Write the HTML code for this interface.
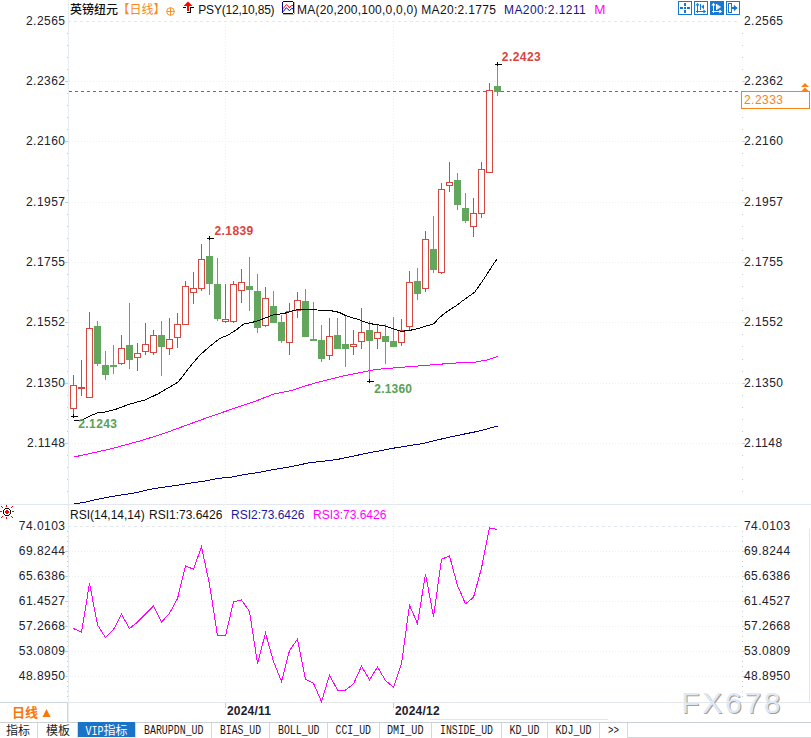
<!DOCTYPE html>
<html><head><meta charset="utf-8">
<style>
html,body{margin:0;padding:0;background:#fff;}
body{width:811px;height:738px;overflow:hidden;position:relative;}
svg{position:absolute;left:0;top:0;}
text{font-family:"Liberation Sans","Noto Sans CJK SC",sans-serif;}
.ax{font-size:12px;fill:#20222e;letter-spacing:0.45px;}
.t{font-size:12px;}
.cj{font-family:"Noto Sans CJK SC","Liberation Sans",sans-serif;}
.tab{font-family:"Liberation Mono","Noto Sans CJK SC",monospace;font-size:12px;fill:#1a1a1a;}
</style></head>
<body>
<svg width="811" height="738" viewBox="0 0 811 738">
<g shape-rendering="crispEdges">
<!-- axis lines -->
<rect x="68" y="0" width="1" height="722" fill="#e6ebf0"/>
<rect x="0" y="504" width="811" height="1" fill="#e3e8ee"/>
<rect x="0" y="702" width="811" height="1" fill="#e4e8ed"/>
<rect x="809" y="529" width="1" height="174" fill="#e3e7eb"/>
<line x1="68" y1="21.5" x2="740" y2="21.5" stroke="#e3e8ee" stroke-dasharray="3 3"/>
<line x1="69" y1="81.5" x2="740" y2="81.5" stroke="#ebeef2" stroke-dasharray="1 2"/>
<line x1="69" y1="141.5" x2="740" y2="141.5" stroke="#ebeef2" stroke-dasharray="1 2"/>
<line x1="69" y1="202.5" x2="740" y2="202.5" stroke="#ebeef2" stroke-dasharray="1 2"/>
<line x1="69" y1="262.5" x2="740" y2="262.5" stroke="#ebeef2" stroke-dasharray="1 2"/>
<line x1="69" y1="322.5" x2="740" y2="322.5" stroke="#ebeef2" stroke-dasharray="1 2"/>
<line x1="69" y1="383.5" x2="740" y2="383.5" stroke="#ebeef2" stroke-dasharray="1 2"/>
<line x1="69" y1="443.5" x2="740" y2="443.5" stroke="#ebeef2" stroke-dasharray="1 2"/>
<line x1="68" y1="526.5" x2="740" y2="526.5" stroke="#e3e8ee" stroke-dasharray="3 3"/>
<line x1="69" y1="551.5" x2="740" y2="551.5" stroke="#ebeef2" stroke-dasharray="1 2"/>
<line x1="69" y1="576.5" x2="740" y2="576.5" stroke="#ebeef2" stroke-dasharray="1 2"/>
<line x1="69" y1="601.5" x2="740" y2="601.5" stroke="#ebeef2" stroke-dasharray="1 2"/>
<line x1="69" y1="626.5" x2="740" y2="626.5" stroke="#ebeef2" stroke-dasharray="1 2"/>
<line x1="69" y1="651.5" x2="740" y2="651.5" stroke="#ebeef2" stroke-dasharray="1 2"/>
<line x1="69" y1="676.5" x2="740" y2="676.5" stroke="#ebeef2" stroke-dasharray="1 2"/>
<line x1="225.5" y1="24" x2="225.5" y2="702" stroke="#ebeef2" stroke-dasharray="1 2"/>
<line x1="225.5" y1="703" x2="225.5" y2="708" stroke="#c8ced6"/>
<line x1="393.5" y1="24" x2="393.5" y2="702" stroke="#ebeef2" stroke-dasharray="1 2"/>
<line x1="393.5" y1="703" x2="393.5" y2="708" stroke="#c8ced6"/>
<rect x="67" y="33" width="1" height="1" fill="#c6ccd3"/>
<rect x="742" y="33" width="1" height="1" fill="#c6ccd3"/>
<rect x="67" y="45" width="1" height="1" fill="#c6ccd3"/>
<rect x="742" y="45" width="1" height="1" fill="#c6ccd3"/>
<rect x="67" y="57" width="1" height="1" fill="#c6ccd3"/>
<rect x="742" y="57" width="1" height="1" fill="#c6ccd3"/>
<rect x="67" y="69" width="1" height="1" fill="#c6ccd3"/>
<rect x="742" y="69" width="1" height="1" fill="#c6ccd3"/>
<rect x="67" y="93" width="1" height="1" fill="#c6ccd3"/>
<rect x="742" y="93" width="1" height="1" fill="#c6ccd3"/>
<rect x="67" y="105" width="1" height="1" fill="#c6ccd3"/>
<rect x="742" y="105" width="1" height="1" fill="#c6ccd3"/>
<rect x="67" y="117" width="1" height="1" fill="#c6ccd3"/>
<rect x="742" y="117" width="1" height="1" fill="#c6ccd3"/>
<rect x="67" y="129" width="1" height="1" fill="#c6ccd3"/>
<rect x="742" y="129" width="1" height="1" fill="#c6ccd3"/>
<rect x="67" y="153" width="1" height="1" fill="#c6ccd3"/>
<rect x="742" y="153" width="1" height="1" fill="#c6ccd3"/>
<rect x="67" y="165" width="1" height="1" fill="#c6ccd3"/>
<rect x="742" y="165" width="1" height="1" fill="#c6ccd3"/>
<rect x="67" y="178" width="1" height="1" fill="#c6ccd3"/>
<rect x="742" y="178" width="1" height="1" fill="#c6ccd3"/>
<rect x="67" y="190" width="1" height="1" fill="#c6ccd3"/>
<rect x="742" y="190" width="1" height="1" fill="#c6ccd3"/>
<rect x="67" y="214" width="1" height="1" fill="#c6ccd3"/>
<rect x="742" y="214" width="1" height="1" fill="#c6ccd3"/>
<rect x="67" y="226" width="1" height="1" fill="#c6ccd3"/>
<rect x="742" y="226" width="1" height="1" fill="#c6ccd3"/>
<rect x="67" y="238" width="1" height="1" fill="#c6ccd3"/>
<rect x="742" y="238" width="1" height="1" fill="#c6ccd3"/>
<rect x="67" y="250" width="1" height="1" fill="#c6ccd3"/>
<rect x="742" y="250" width="1" height="1" fill="#c6ccd3"/>
<rect x="67" y="274" width="1" height="1" fill="#c6ccd3"/>
<rect x="742" y="274" width="1" height="1" fill="#c6ccd3"/>
<rect x="67" y="286" width="1" height="1" fill="#c6ccd3"/>
<rect x="742" y="286" width="1" height="1" fill="#c6ccd3"/>
<rect x="67" y="298" width="1" height="1" fill="#c6ccd3"/>
<rect x="742" y="298" width="1" height="1" fill="#c6ccd3"/>
<rect x="67" y="310" width="1" height="1" fill="#c6ccd3"/>
<rect x="742" y="310" width="1" height="1" fill="#c6ccd3"/>
<rect x="67" y="334" width="1" height="1" fill="#c6ccd3"/>
<rect x="742" y="334" width="1" height="1" fill="#c6ccd3"/>
<rect x="67" y="346" width="1" height="1" fill="#c6ccd3"/>
<rect x="742" y="346" width="1" height="1" fill="#c6ccd3"/>
<rect x="67" y="359" width="1" height="1" fill="#c6ccd3"/>
<rect x="742" y="359" width="1" height="1" fill="#c6ccd3"/>
<rect x="67" y="371" width="1" height="1" fill="#c6ccd3"/>
<rect x="742" y="371" width="1" height="1" fill="#c6ccd3"/>
<rect x="67" y="395" width="1" height="1" fill="#c6ccd3"/>
<rect x="742" y="395" width="1" height="1" fill="#c6ccd3"/>
<rect x="67" y="407" width="1" height="1" fill="#c6ccd3"/>
<rect x="742" y="407" width="1" height="1" fill="#c6ccd3"/>
<rect x="67" y="419" width="1" height="1" fill="#c6ccd3"/>
<rect x="742" y="419" width="1" height="1" fill="#c6ccd3"/>
<rect x="67" y="431" width="1" height="1" fill="#c6ccd3"/>
<rect x="742" y="431" width="1" height="1" fill="#c6ccd3"/>
<rect x="65" y="81" width="3" height="1" fill="#c6ccd3"/>
<rect x="742" y="81" width="3" height="1" fill="#ccd1d7"/>
<rect x="65" y="141" width="3" height="1" fill="#c6ccd3"/>
<rect x="742" y="141" width="3" height="1" fill="#ccd1d7"/>
<rect x="65" y="202" width="3" height="1" fill="#c6ccd3"/>
<rect x="742" y="202" width="3" height="1" fill="#ccd1d7"/>
<rect x="65" y="262" width="3" height="1" fill="#c6ccd3"/>
<rect x="742" y="262" width="3" height="1" fill="#ccd1d7"/>
<rect x="65" y="322" width="3" height="1" fill="#c6ccd3"/>
<rect x="742" y="322" width="3" height="1" fill="#ccd1d7"/>
<rect x="65" y="383" width="3" height="1" fill="#c6ccd3"/>
<rect x="742" y="383" width="3" height="1" fill="#ccd1d7"/>
<rect x="65" y="443" width="3" height="1" fill="#c6ccd3"/>
<rect x="742" y="443" width="3" height="1" fill="#ccd1d7"/>
<rect x="65" y="551" width="3" height="1" fill="#c6ccd3"/>
<rect x="742" y="551" width="3" height="1" fill="#ccd1d7"/>
<rect x="65" y="576" width="3" height="1" fill="#c6ccd3"/>
<rect x="742" y="576" width="3" height="1" fill="#ccd1d7"/>
<rect x="65" y="601" width="3" height="1" fill="#c6ccd3"/>
<rect x="742" y="601" width="3" height="1" fill="#ccd1d7"/>
<rect x="65" y="626" width="3" height="1" fill="#c6ccd3"/>
<rect x="742" y="626" width="3" height="1" fill="#ccd1d7"/>
<rect x="65" y="651" width="3" height="1" fill="#c6ccd3"/>
<rect x="742" y="651" width="3" height="1" fill="#ccd1d7"/>
<rect x="65" y="676" width="3" height="1" fill="#c6ccd3"/>
<rect x="742" y="676" width="3" height="1" fill="#ccd1d7"/>
<rect x="67" y="455" width="1" height="1" fill="#c6ccd3"/>
<rect x="742" y="455" width="1" height="1" fill="#c6ccd3"/>
<rect x="67" y="467" width="1" height="1" fill="#c6ccd3"/>
<rect x="742" y="467" width="1" height="1" fill="#c6ccd3"/>
<rect x="67" y="479" width="1" height="1" fill="#c6ccd3"/>
<rect x="742" y="479" width="1" height="1" fill="#c6ccd3"/>
<rect x="67" y="491" width="1" height="1" fill="#c6ccd3"/>
<rect x="742" y="491" width="1" height="1" fill="#c6ccd3"/>
<rect x="67" y="531" width="1" height="1" fill="#c6ccd3"/>
<rect x="742" y="531" width="1" height="1" fill="#c6ccd3"/>
<rect x="67" y="536" width="1" height="1" fill="#c6ccd3"/>
<rect x="742" y="536" width="1" height="1" fill="#c6ccd3"/>
<rect x="67" y="541" width="1" height="1" fill="#c6ccd3"/>
<rect x="742" y="541" width="1" height="1" fill="#c6ccd3"/>
<rect x="67" y="546" width="1" height="1" fill="#c6ccd3"/>
<rect x="742" y="546" width="1" height="1" fill="#c6ccd3"/>
<rect x="67" y="556" width="1" height="1" fill="#c6ccd3"/>
<rect x="742" y="556" width="1" height="1" fill="#c6ccd3"/>
<rect x="67" y="561" width="1" height="1" fill="#c6ccd3"/>
<rect x="742" y="561" width="1" height="1" fill="#c6ccd3"/>
<rect x="67" y="566" width="1" height="1" fill="#c6ccd3"/>
<rect x="742" y="566" width="1" height="1" fill="#c6ccd3"/>
<rect x="67" y="571" width="1" height="1" fill="#c6ccd3"/>
<rect x="742" y="571" width="1" height="1" fill="#c6ccd3"/>
<rect x="67" y="581" width="1" height="1" fill="#c6ccd3"/>
<rect x="742" y="581" width="1" height="1" fill="#c6ccd3"/>
<rect x="67" y="586" width="1" height="1" fill="#c6ccd3"/>
<rect x="742" y="586" width="1" height="1" fill="#c6ccd3"/>
<rect x="67" y="591" width="1" height="1" fill="#c6ccd3"/>
<rect x="742" y="591" width="1" height="1" fill="#c6ccd3"/>
<rect x="67" y="596" width="1" height="1" fill="#c6ccd3"/>
<rect x="742" y="596" width="1" height="1" fill="#c6ccd3"/>
<rect x="67" y="606" width="1" height="1" fill="#c6ccd3"/>
<rect x="742" y="606" width="1" height="1" fill="#c6ccd3"/>
<rect x="67" y="611" width="1" height="1" fill="#c6ccd3"/>
<rect x="742" y="611" width="1" height="1" fill="#c6ccd3"/>
<rect x="67" y="616" width="1" height="1" fill="#c6ccd3"/>
<rect x="742" y="616" width="1" height="1" fill="#c6ccd3"/>
<rect x="67" y="621" width="1" height="1" fill="#c6ccd3"/>
<rect x="742" y="621" width="1" height="1" fill="#c6ccd3"/>
<rect x="67" y="631" width="1" height="1" fill="#c6ccd3"/>
<rect x="742" y="631" width="1" height="1" fill="#c6ccd3"/>
<rect x="67" y="636" width="1" height="1" fill="#c6ccd3"/>
<rect x="742" y="636" width="1" height="1" fill="#c6ccd3"/>
<rect x="67" y="641" width="1" height="1" fill="#c6ccd3"/>
<rect x="742" y="641" width="1" height="1" fill="#c6ccd3"/>
<rect x="67" y="646" width="1" height="1" fill="#c6ccd3"/>
<rect x="742" y="646" width="1" height="1" fill="#c6ccd3"/>
<rect x="67" y="656" width="1" height="1" fill="#c6ccd3"/>
<rect x="742" y="656" width="1" height="1" fill="#c6ccd3"/>
<rect x="67" y="661" width="1" height="1" fill="#c6ccd3"/>
<rect x="742" y="661" width="1" height="1" fill="#c6ccd3"/>
<rect x="67" y="666" width="1" height="1" fill="#c6ccd3"/>
<rect x="742" y="666" width="1" height="1" fill="#c6ccd3"/>
<rect x="67" y="671" width="1" height="1" fill="#c6ccd3"/>
<rect x="742" y="671" width="1" height="1" fill="#c6ccd3"/>
<rect x="67" y="681" width="1" height="1" fill="#c6ccd3"/>
<rect x="742" y="681" width="1" height="1" fill="#c6ccd3"/>
<rect x="67" y="686" width="1" height="1" fill="#c6ccd3"/>
<rect x="742" y="686" width="1" height="1" fill="#c6ccd3"/>
<rect x="67" y="691" width="1" height="1" fill="#c6ccd3"/>
<rect x="742" y="691" width="1" height="1" fill="#c6ccd3"/>
<rect x="67" y="696" width="1" height="1" fill="#c6ccd3"/>
<rect x="742" y="696" width="1" height="1" fill="#c6ccd3"/>
</g>
<!-- current price dashed line -->
<line x1="69" y1="91.5" x2="740" y2="91.5" stroke="#1a7fe8" stroke-width="1" stroke-dasharray="3 3" shape-rendering="crispEdges"/>
<g shape-rendering="crispEdges">
<rect x="73" y="375" width="1" height="10" fill="#d5463f"/>
<rect x="73" y="409" width="1" height="8" fill="#d5463f"/>
<rect x="70.5" y="385.5" width="6" height="23" fill="#fff" stroke="#d5463f" stroke-width="1"/>
<rect x="81" y="360" width="1" height="36" fill="#d5463f"/>
<rect x="78" y="387" width="7" height="2" fill="#d5463f"/>
<rect x="89" y="312" width="1" height="16" fill="#d5463f"/>
<rect x="86.5" y="328.5" width="6" height="69" fill="#fff" stroke="#d5463f" stroke-width="1"/>
<rect x="97" y="321" width="1" height="5" fill="#63a65e"/>
<rect x="97" y="364" width="1" height="2" fill="#63a65e"/>
<rect x="94" y="326" width="7" height="38" fill="#63a65e"/>
<rect x="105" y="351" width="1" height="14" fill="#63a65e"/>
<rect x="105" y="375" width="1" height="5" fill="#63a65e"/>
<rect x="102" y="365" width="7" height="10" fill="#63a65e"/>
<rect x="113" y="345" width="1" height="29" fill="#63a65e"/>
<rect x="110" y="365" width="7" height="2" fill="#63a65e"/>
<rect x="121" y="335" width="1" height="13" fill="#d5463f"/>
<rect x="121" y="364" width="1" height="1" fill="#d5463f"/>
<rect x="118.5" y="348.5" width="6" height="15" fill="#fff" stroke="#d5463f" stroke-width="1"/>
<rect x="129" y="303" width="1" height="42" fill="#63a65e"/>
<rect x="129" y="360" width="1" height="9" fill="#63a65e"/>
<rect x="126" y="345" width="7" height="15" fill="#63a65e"/>
<rect x="137" y="343" width="1" height="10" fill="#d5463f"/>
<rect x="137" y="358" width="1" height="13" fill="#d5463f"/>
<rect x="134.5" y="353.5" width="6" height="4" fill="#fff" stroke="#d5463f" stroke-width="1"/>
<rect x="145" y="323" width="1" height="21" fill="#d5463f"/>
<rect x="145" y="352" width="1" height="3" fill="#d5463f"/>
<rect x="142.5" y="344.5" width="6" height="7" fill="#fff" stroke="#d5463f" stroke-width="1"/>
<rect x="153" y="330" width="1" height="5" fill="#d5463f"/>
<rect x="153" y="353" width="1" height="2" fill="#d5463f"/>
<rect x="150.5" y="335.5" width="6" height="17" fill="#fff" stroke="#d5463f" stroke-width="1"/>
<rect x="161" y="321" width="1" height="14" fill="#63a65e"/>
<rect x="161" y="347" width="1" height="29" fill="#63a65e"/>
<rect x="158" y="335" width="7" height="12" fill="#63a65e"/>
<rect x="169" y="318" width="1" height="21" fill="#d5463f"/>
<rect x="169" y="349" width="1" height="6" fill="#d5463f"/>
<rect x="166.5" y="339.5" width="6" height="9" fill="#fff" stroke="#d5463f" stroke-width="1"/>
<rect x="177" y="313" width="1" height="11" fill="#d5463f"/>
<rect x="177" y="338" width="1" height="10" fill="#d5463f"/>
<rect x="174.5" y="324.5" width="6" height="13" fill="#fff" stroke="#d5463f" stroke-width="1"/>
<rect x="185" y="281" width="1" height="5" fill="#d5463f"/>
<rect x="182.5" y="286.5" width="6" height="38" fill="#fff" stroke="#d5463f" stroke-width="1"/>
<rect x="193" y="272" width="1" height="16" fill="#d5463f"/>
<rect x="193" y="293" width="1" height="11" fill="#d5463f"/>
<rect x="190.5" y="288.5" width="6" height="4" fill="#fff" stroke="#d5463f" stroke-width="1"/>
<rect x="201" y="244" width="1" height="15" fill="#d5463f"/>
<rect x="201" y="289" width="1" height="2" fill="#d5463f"/>
<rect x="198.5" y="259.5" width="6" height="29" fill="#fff" stroke="#d5463f" stroke-width="1"/>
<rect x="209" y="238" width="1" height="18" fill="#63a65e"/>
<rect x="209" y="284" width="1" height="11" fill="#63a65e"/>
<rect x="206" y="256" width="7" height="28" fill="#63a65e"/>
<rect x="217" y="258" width="1" height="26" fill="#63a65e"/>
<rect x="217" y="319" width="1" height="2" fill="#63a65e"/>
<rect x="214" y="284" width="7" height="35" fill="#63a65e"/>
<rect x="225" y="284" width="1" height="35" fill="#d5463f"/>
<rect x="225" y="322" width="1" height="1" fill="#d5463f"/>
<rect x="222.5" y="319.5" width="6" height="2" fill="#fff" stroke="#d5463f" stroke-width="1"/>
<rect x="233" y="281" width="1" height="3" fill="#d5463f"/>
<rect x="233" y="322" width="1" height="1" fill="#d5463f"/>
<rect x="230.5" y="284.5" width="6" height="37" fill="#fff" stroke="#d5463f" stroke-width="1"/>
<rect x="241" y="269" width="1" height="13" fill="#d5463f"/>
<rect x="241" y="291" width="1" height="12" fill="#d5463f"/>
<rect x="238.5" y="282.5" width="6" height="8" fill="#fff" stroke="#d5463f" stroke-width="1"/>
<rect x="249" y="257" width="1" height="29" fill="#63a65e"/>
<rect x="249" y="290" width="1" height="21" fill="#63a65e"/>
<rect x="246" y="286" width="7" height="4" fill="#63a65e"/>
<rect x="257" y="274" width="1" height="17" fill="#63a65e"/>
<rect x="257" y="328" width="1" height="5" fill="#63a65e"/>
<rect x="254" y="291" width="7" height="37" fill="#63a65e"/>
<rect x="265" y="287" width="1" height="11" fill="#d5463f"/>
<rect x="265" y="326" width="1" height="1" fill="#d5463f"/>
<rect x="262.5" y="298.5" width="6" height="27" fill="#fff" stroke="#d5463f" stroke-width="1"/>
<rect x="273" y="291" width="1" height="15" fill="#63a65e"/>
<rect x="270" y="306" width="7" height="17" fill="#63a65e"/>
<rect x="281" y="315" width="1" height="7" fill="#63a65e"/>
<rect x="281" y="341" width="1" height="2" fill="#63a65e"/>
<rect x="278" y="322" width="7" height="19" fill="#63a65e"/>
<rect x="289" y="303" width="1" height="8" fill="#d5463f"/>
<rect x="289" y="343" width="1" height="12" fill="#d5463f"/>
<rect x="286.5" y="311.5" width="6" height="31" fill="#fff" stroke="#d5463f" stroke-width="1"/>
<rect x="297" y="292" width="1" height="8" fill="#d5463f"/>
<rect x="297" y="311" width="1" height="7" fill="#d5463f"/>
<rect x="294.5" y="300.5" width="6" height="10" fill="#fff" stroke="#d5463f" stroke-width="1"/>
<rect x="305" y="289" width="1" height="12" fill="#63a65e"/>
<rect x="302" y="301" width="7" height="36" fill="#63a65e"/>
<rect x="313" y="302" width="1" height="39" fill="#63a65e"/>
<rect x="310" y="339" width="7" height="2" fill="#63a65e"/>
<rect x="321" y="325" width="1" height="15" fill="#63a65e"/>
<rect x="321" y="359" width="1" height="3" fill="#63a65e"/>
<rect x="318" y="340" width="7" height="19" fill="#63a65e"/>
<rect x="329" y="318" width="1" height="18" fill="#d5463f"/>
<rect x="329" y="356" width="1" height="4" fill="#d5463f"/>
<rect x="326.5" y="336.5" width="6" height="19" fill="#fff" stroke="#d5463f" stroke-width="1"/>
<rect x="337" y="318" width="1" height="17" fill="#63a65e"/>
<rect x="334" y="335" width="7" height="14" fill="#63a65e"/>
<rect x="345" y="315" width="1" height="29" fill="#63a65e"/>
<rect x="345" y="349" width="1" height="18" fill="#63a65e"/>
<rect x="342" y="344" width="7" height="5" fill="#63a65e"/>
<rect x="353" y="330" width="1" height="14" fill="#d5463f"/>
<rect x="353" y="347" width="1" height="8" fill="#d5463f"/>
<rect x="350.5" y="344.5" width="6" height="2" fill="#fff" stroke="#d5463f" stroke-width="1"/>
<rect x="361" y="308" width="1" height="24" fill="#d5463f"/>
<rect x="361" y="342" width="1" height="7" fill="#d5463f"/>
<rect x="358.5" y="332.5" width="6" height="9" fill="#fff" stroke="#d5463f" stroke-width="1"/>
<rect x="369" y="321" width="1" height="9" fill="#63a65e"/>
<rect x="369" y="341" width="1" height="41" fill="#63a65e"/>
<rect x="366" y="330" width="7" height="11" fill="#63a65e"/>
<rect x="377" y="324" width="1" height="8" fill="#d5463f"/>
<rect x="377" y="339" width="1" height="10" fill="#d5463f"/>
<rect x="374.5" y="332.5" width="6" height="6" fill="#fff" stroke="#d5463f" stroke-width="1"/>
<rect x="385" y="324" width="1" height="12" fill="#63a65e"/>
<rect x="385" y="342" width="1" height="22" fill="#63a65e"/>
<rect x="382" y="336" width="7" height="6" fill="#63a65e"/>
<rect x="393" y="317" width="1" height="24" fill="#63a65e"/>
<rect x="390" y="341" width="7" height="6" fill="#63a65e"/>
<rect x="401" y="319" width="1" height="11" fill="#d5463f"/>
<rect x="401" y="343" width="1" height="3" fill="#d5463f"/>
<rect x="398.5" y="330.5" width="6" height="12" fill="#fff" stroke="#d5463f" stroke-width="1"/>
<rect x="409" y="271" width="1" height="11" fill="#d5463f"/>
<rect x="409" y="327" width="1" height="4" fill="#d5463f"/>
<rect x="406.5" y="282.5" width="6" height="44" fill="#fff" stroke="#d5463f" stroke-width="1"/>
<rect x="417" y="268" width="1" height="13" fill="#63a65e"/>
<rect x="417" y="294" width="1" height="6" fill="#63a65e"/>
<rect x="414" y="281" width="7" height="13" fill="#63a65e"/>
<rect x="425" y="231" width="1" height="8" fill="#d5463f"/>
<rect x="425" y="289" width="1" height="3" fill="#d5463f"/>
<rect x="422.5" y="239.5" width="6" height="49" fill="#fff" stroke="#d5463f" stroke-width="1"/>
<rect x="433" y="216" width="1" height="33" fill="#63a65e"/>
<rect x="433" y="270" width="1" height="3" fill="#63a65e"/>
<rect x="430" y="249" width="7" height="21" fill="#63a65e"/>
<rect x="441" y="183" width="1" height="6" fill="#d5463f"/>
<rect x="441" y="273" width="1" height="1" fill="#d5463f"/>
<rect x="438.5" y="189.5" width="6" height="83" fill="#fff" stroke="#d5463f" stroke-width="1"/>
<rect x="449" y="162" width="1" height="20" fill="#d5463f"/>
<rect x="449" y="186" width="1" height="6" fill="#d5463f"/>
<rect x="446.5" y="182.5" width="6" height="3" fill="#fff" stroke="#d5463f" stroke-width="1"/>
<rect x="457" y="173" width="1" height="7" fill="#63a65e"/>
<rect x="457" y="205" width="1" height="5" fill="#63a65e"/>
<rect x="454" y="180" width="7" height="25" fill="#63a65e"/>
<rect x="465" y="193" width="1" height="15" fill="#63a65e"/>
<rect x="465" y="221" width="1" height="2" fill="#63a65e"/>
<rect x="462" y="208" width="7" height="13" fill="#63a65e"/>
<rect x="473" y="198" width="1" height="15" fill="#d5463f"/>
<rect x="473" y="227" width="1" height="10" fill="#d5463f"/>
<rect x="470.5" y="213.5" width="6" height="13" fill="#fff" stroke="#d5463f" stroke-width="1"/>
<rect x="481" y="162" width="1" height="7" fill="#d5463f"/>
<rect x="481" y="214" width="1" height="4" fill="#d5463f"/>
<rect x="478.5" y="169.5" width="6" height="44" fill="#fff" stroke="#d5463f" stroke-width="1"/>
<rect x="489" y="83" width="1" height="7" fill="#d5463f"/>
<rect x="486.5" y="90.5" width="6" height="82" fill="#fff" stroke="#d5463f" stroke-width="1"/>
<rect x="497" y="64" width="1" height="22" fill="#63a65e"/>
<rect x="497" y="92" width="1" height="4" fill="#63a65e"/>
<rect x="494" y="86" width="7" height="6" fill="#63a65e"/>
</g>
<!-- moving averages -->
<polyline points="73.9,503.8 84.8,502.4 95.6,499.6 109.2,496.9 122.8,494.8 136.3,492.6 149.9,489.3 163.5,487.2 177.0,485.3 190.6,483.1 204.1,481.2 217.7,478.5 231.3,477.1 244.8,474.4 258.4,472.5 272.0,469.8 288.5,467.1 308.9,462.9 337.2,459.5 365.6,453.5 393.9,448.1 422.3,443.6 450.7,436.8 479.0,431.1 497.5,426.0" fill="none" stroke="#000080" stroke-width="1" shape-rendering="crispEdges"/>
<polyline points="73.9,457.0 109.2,449.3 141.7,440.5 163.5,433.6 180.5,427.4 199.0,420.6 217.5,414.1 236.0,407.7 245.2,404.5 254.5,401.6 273.0,394.3 291.5,390.5 310.0,384.5 320.5,381.6 342.7,376.0 364.9,371.6 376.0,369.4 387.1,368.5 409.3,366.7 431.5,364.9 453.7,363.1 475.8,362.0 486.9,360.0 498.0,356.5" fill="none" stroke="#ff00ff" stroke-width="1" shape-rendering="crispEdges"/>
<polyline points="73.6,421.0 81.3,420.2 89.3,416.2 97.4,413.0 105.4,411.9 116.6,409.0 129.4,404.2 145.5,399.8 158.3,393.7 167.9,388.1 177.5,382.5 182.3,376.9 189.7,367.1 199.0,356.0 208.2,347.7 219.3,338.8 228.6,334.7 236.0,330.1 243.4,324.2 254.5,321.8 263.7,318.6 273.0,314.9 284.1,313.4 297.0,309.7 317.4,310.0 333.9,311.1 339.8,312.6 345.8,315.6 353.3,318.1 358.5,319.3 362.5,321.1 369.9,323.6 377.4,324.8 386.4,326.3 393.8,329.0 401.3,331.4 405.4,330.9 411.6,330.0 419.0,328.2 425.2,326.3 433.8,323.9 438.7,318.3 443.7,314.0 449.8,309.7 456.0,306.0 462.2,301.1 468.3,296.7 474.5,292.4 480.6,283.8 486.8,274.5 493.0,264.7 497.3,258.5" fill="none" stroke="#000" stroke-width="1" shape-rendering="crispEdges"/>
<!-- high/low markers -->
<g shape-rendering="crispEdges" fill="#000">
<rect x="71" y="416" width="7" height="1"/><rect x="73" y="414" width="1" height="4"/>
<rect x="207" y="238" width="7" height="1"/><rect x="209" y="236" width="1" height="4"/>
<rect x="367" y="381" width="7" height="1"/><rect x="369" y="379" width="1" height="4"/>
<rect x="495" y="64" width="7" height="1"/><rect x="497" y="62" width="1" height="4"/>
</g>
<g font-weight="bold" font-size="12px">
<text x="78.3" y="428" fill="#5aa155" letter-spacing="0.4">2.1243</text>
<text x="214.5" y="235" fill="#d9443c" letter-spacing="0.4">2.1839</text>
<text x="374.3" y="393" fill="#5aa155" letter-spacing="0.2">2.1360</text>
<text x="501.8" y="61.2" fill="#d9443c" letter-spacing="0.45">2.2423</text>
</g>
<!-- RSI -->
<polyline points="73.5,628.5 81.5,632.3 89.5,583.4 97.5,624.9 105.5,637.7 113.5,629.6 121.5,614.1 129.5,628.5 137.5,622.2 145.5,614.1 153.5,606.2 161.5,622.2 169.5,613.3 177.5,598.6 185.5,565.8 193.5,569.3 201.5,546.8 209.5,584.3 217.5,635.8 225.5,635.8 233.5,601.9 241.5,600.0 249.5,611.4 257.5,663.5 265.5,633.1 273.5,661.6 281.5,681.5 289.5,650.7 297.5,639.1 305.5,679.2 313.5,683.3 321.5,701.7 329.5,675.1 337.5,690.1 345.5,690.1 353.5,683.8 361.5,666.2 369.5,679.8 377.5,667.0 385.5,680.6 393.5,687.3 401.5,663.7 409.5,605.1 417.5,623.6 425.5,573.9 433.5,616.8 441.5,559.3 449.5,555.8 457.5,585.6 465.5,603.8 473.5,597.3 481.5,568.0 489.5,527.8 497.5,529.5" fill="none" stroke="#ff00ff" stroke-width="1" shape-rendering="crispEdges"/>
<text x="65.4" y="24.5" text-anchor="end" class="ax">2.2565</text>
<text x="744" y="24.5" class="ax">2.2565</text>
<text x="65.4" y="84.5" text-anchor="end" class="ax">2.2362</text>
<text x="744" y="84.5" class="ax">2.2362</text>
<text x="65.4" y="144.5" text-anchor="end" class="ax">2.2160</text>
<text x="744" y="144.5" class="ax">2.2160</text>
<text x="65.4" y="205.5" text-anchor="end" class="ax">2.1957</text>
<text x="744" y="205.5" class="ax">2.1957</text>
<text x="65.4" y="265.5" text-anchor="end" class="ax">2.1755</text>
<text x="744" y="265.5" class="ax">2.1755</text>
<text x="65.4" y="325.5" text-anchor="end" class="ax">2.1552</text>
<text x="744" y="325.5" class="ax">2.1552</text>
<text x="65.4" y="386.5" text-anchor="end" class="ax">2.1350</text>
<text x="744" y="386.5" class="ax">2.1350</text>
<text x="65.4" y="446.5" text-anchor="end" class="ax">2.1148</text>
<text x="744" y="446.5" class="ax">2.1148</text>
<text x="65.4" y="529.5" text-anchor="end" class="ax">74.0103</text>
<text x="744" y="529.5" class="ax">74.0103</text>
<text x="65.4" y="554.5" text-anchor="end" class="ax">69.8244</text>
<text x="744" y="554.5" class="ax">69.8244</text>
<text x="65.4" y="579.5" text-anchor="end" class="ax">65.6386</text>
<text x="744" y="579.5" class="ax">65.6386</text>
<text x="65.4" y="604.5" text-anchor="end" class="ax">61.4527</text>
<text x="744" y="604.5" class="ax">61.4527</text>
<text x="65.4" y="629.5" text-anchor="end" class="ax">57.2668</text>
<text x="744" y="629.5" class="ax">57.2668</text>
<text x="65.4" y="654.5" text-anchor="end" class="ax">53.0809</text>
<text x="744" y="654.5" class="ax">53.0809</text>
<text x="65.4" y="679.5" text-anchor="end" class="ax">48.8950</text>
<text x="744" y="679.5" class="ax">48.8950</text>
<!-- current price box -->
<rect x="741.5" y="91.5" width="68" height="17" fill="#fff" stroke="#fa8214"/>
<text x="744" y="104" class="ax" style="fill:#fa8214">2.2333</text>
<path d="M801 87 L805 83 L809 87 Z M801 91.5 L805 87.5 L809 91.5 Z" fill="#fa8214"/>

<!-- header -->
<text x="70" y="14" class="t cj" fill="#111" font-weight="500">英镑纽元</text>
<text x="117.5" y="14" class="t cj" fill="#f78a1d">【日线】</text>
<g transform="translate(170.5,11.5)" fill="none" stroke="#f78a1d" stroke-width="0.9"><circle r="3.8"/><line x1="-4" y1="0" x2="4" y2="0"/><line x1="0" y1="-4" x2="0" y2="4"/></g>
<g shape-rendering="crispEdges" fill="#000"><rect x="183" y="7" width="3" height="1"/><rect x="190" y="7" width="4" height="1"/><rect x="190" y="7" width="1" height="6"/><rect x="187" y="12" width="4" height="1"/></g>
<path d="M188 1.5 L192.5 6 L189 6 L189 11 L187 11 L187 6 L183.5 6 Z" fill="#ff0000"/>
<text x="198.3" y="14" class="t" fill="#111" textLength="76.3">PSY(12,10,85)</text>
<g shape-rendering="crispEdges">
<rect x="283" y="14" width="11" height="1" fill="#b8b4a8"/><rect x="294" y="2" width="1" height="12" fill="#b8b4a8"/>
<rect x="283" y="1" width="10" height="1" fill="#000080"/><rect x="283" y="13" width="10" height="1" fill="#000080"/>
<rect x="282" y="2" width="1" height="11" fill="#000080"/><rect x="293" y="2" width="1" height="11" fill="#000080"/>
</g>
<polyline points="283,8.8 286.4,4.6 287.5,5.4 289.4,7.8 291.5,5.5 293,5.5" fill="none" stroke="#ff0000" stroke-width="1"/>
<polyline points="283,11.8 286.4,7.8 287.5,8.6 289.4,10.8 291.5,8.6 293,8.6" fill="none" stroke="#0000ff" stroke-width="1"/>
<text x="297" y="14" class="t" fill="#111" textLength="120.4">MA(20,200,100,0,0,0)</text>
<text x="421.3" y="14" class="t" fill="#111" textLength="74.6">MA20:2.1775</text>
<text x="504" y="14" class="t" fill="#14148c" textLength="81.8">MA200:2.1211</text>
<text x="594.3" y="14" class="t" fill="#ff00ff" textLength="11.2" lengthAdjust="spacingAndGlyphs">M</text>

<!-- top right icons -->
<g shape-rendering="crispEdges">
<rect x="678.5" y="1.5" width="13" height="13" fill="#fff" stroke="#1878d0"/>
<rect x="694.5" y="1.5" width="13" height="13" fill="#fff" stroke="#1878d0"/>
<rect x="710" y="1" width="14" height="14" fill="#1878d0"/>
<rect x="726.5" y="1.5" width="13" height="13" fill="#fff" stroke="#1878d0"/>
<g fill="#1878d0">
<rect x="684" y="3" width="2" height="3"/><rect x="684" y="7" width="2" height="2"/><rect x="684" y="10" width="2" height="3"/><rect x="680" y="7" width="3" height="2"/><rect x="687" y="7" width="3" height="2"/>
<rect x="697" y="4" width="1" height="9"/><rect x="696" y="11" width="9" height="1"/>
<rect x="700" y="4" width="1" height="6"/>
<rect x="728.5" y="3.5" width="3" height="9" fill="none" stroke="#1878d0"/>
<rect x="732" y="7" width="3" height="2"/>
</g>
<g fill="#fff">
<rect x="713" y="4" width="1" height="9"/><rect x="712" y="11" width="9" height="1"/>
<rect x="716" y="4" width="1" height="6"/>
</g>
</g>
<g fill="#1878d0">
<path d="M697.5 2.8 L699.6 5.4 L695.4 5.4 Z"/><path d="M706.2 11.5 L703.4 9.6 L703.4 13.4 Z"/>
<path d="M701.2 6.8 L704 4.4 L704 9.2 Z"/>
<path d="M737.8 8 L733.8 4.8 L733.8 11.2 Z"/>
</g>
<g fill="#fff">
<path d="M713.5 2.8 L715.6 5.4 L711.4 5.4 Z"/><path d="M722.2 11.5 L719.4 9.6 L719.4 13.4 Z"/>
<path d="M721.2 7 L717 4.2 L717 9.8 Z" opacity="0.85"/>
</g>
<!-- RSI header -->
<g shape-rendering="crispEdges">
<g fill="#000">
<rect x="5" y="508" width="4" height="1"/><rect x="5" y="515" width="4" height="1"/>
<rect x="4" y="509" width="1" height="1"/><rect x="9" y="509" width="1" height="1"/>
<rect x="4" y="514" width="1" height="1"/><rect x="9" y="514" width="1" height="1"/>
<rect x="3" y="510" width="1" height="4"/><rect x="10" y="510" width="1" height="4"/>
</g>
<g fill="#ff0000">
<rect x="5" y="511" width="4" height="2"/><rect x="6" y="510" width="2" height="4"/>
<rect x="6" y="505" width="1" height="2"/><rect x="6" y="517" width="1" height="2"/>
<rect x="0" y="511" width="2" height="1"/><rect x="12" y="511" width="2" height="1"/>
<rect x="1" y="506" width="1" height="1"/><rect x="2" y="507" width="1" height="1"/>
<rect x="12" y="506" width="1" height="1"/><rect x="11" y="507" width="1" height="1"/>
<rect x="1" y="517" width="1" height="1"/><rect x="2" y="516" width="1" height="1"/>
<rect x="12" y="517" width="1" height="1"/><rect x="11" y="516" width="1" height="1"/>
</g>
</g>
<text x="70" y="519" class="t" fill="#111">RSI(14,14,14)</text>
<text x="149" y="519" class="t" fill="#111">RSI1:73.6426</text>
<text x="231" y="519" class="t" fill="#1a1a9a">RSI2:73.6426</text>
<text x="313" y="519" class="t" fill="#ff00ff">RSI3:73.6426</text>

<!-- x axis labels -->
<text x="227" y="715" font-weight="bold" font-size="12px" fill="#1c2030" letter-spacing="0.2">2024/11</text>
<text x="395" y="715" font-weight="bold" font-size="12px" fill="#1c2030" letter-spacing="0.2">2024/12</text>

<!-- watermark -->
<text x="682.3" y="713.8" font-size="30px" letter-spacing="2.7" fill="#b39a86">FX678</text>
<text x="681.3" y="712.8" font-size="30px" letter-spacing="2.7" fill="#dce9f7">FX678</text>
<!-- bottom left box -->
<g shape-rendering="crispEdges">
<rect x="0" y="702" width="68" height="1" fill="#d0d6de"/>
<rect x="67" y="702" width="1" height="20" fill="#d0d6de"/>
<rect x="430" y="719" width="178" height="1" fill="#e2e6ea"/>
</g>
<text x="12" y="717" font-weight="bold" font-size="13px" class="cj" fill="#fb7509">日线</text>
<path d="M42.5 717 L46.5 709 L50.5 717 Z" fill="#fb7509"/>

<!-- tabs -->
<g shape-rendering="crispEdges">
<rect x="0" y="722" width="811" height="16" fill="#fff"/>
<rect x="0" y="722" width="811" height="1" fill="#c9d0d8"/>
<rect x="78" y="722" width="57" height="15" fill="#1a73c6"/>
<g fill="#d3d8de">
<rect x="37" y="723" width="1" height="15"/>
<rect x="77" y="723" width="1" height="15"/>
<rect x="135" y="723" width="1" height="15"/>
<rect x="211" y="723" width="1" height="15"/>
<rect x="269" y="723" width="1" height="15"/>
<rect x="327" y="723" width="1" height="15"/>
<rect x="379" y="723" width="1" height="15"/>
<rect x="431" y="723" width="1" height="15"/>
<rect x="501" y="723" width="1" height="15"/>
<rect x="547" y="723" width="1" height="15"/>
<rect x="599" y="723" width="1" height="15"/>
<rect x="627" y="723" width="1" height="15"/>
<rect x="627" y="737" width="184" height="1"/>
</g>
</g>
<text x="6" y="735" class="cj" font-size="12px" fill="#222">指标</text>
<text x="46" y="735" class="cj" font-size="12px" fill="#222">模板</text>
<text x="85.5" y="734.5" class="tab" style="fill:#fff" textLength="18" lengthAdjust="spacingAndGlyphs">VIP</text><text x="103.5" y="735" class="cj" font-size="12px" fill="#fff">指标</text>
<text x="144" y="734" class="tab" textLength="59.5" lengthAdjust="spacingAndGlyphs">BARUPDN_UD</text>
<text x="220" y="734" class="tab" textLength="41" lengthAdjust="spacingAndGlyphs">BIAS_UD</text>
<text x="278" y="734" class="tab" textLength="41.5" lengthAdjust="spacingAndGlyphs">BOLL_UD</text>
<text x="335.5" y="734" class="tab" textLength="35.5" lengthAdjust="spacingAndGlyphs">CCI_UD</text>
<text x="387" y="734" class="tab" textLength="36.5" lengthAdjust="spacingAndGlyphs">DMI_UD</text>
<text x="440" y="734" class="tab" textLength="53" lengthAdjust="spacingAndGlyphs">INSIDE_UD</text>
<text x="509.5" y="734" class="tab" textLength="30.0" lengthAdjust="spacingAndGlyphs">KD_UD</text>
<text x="555.5" y="734" class="tab" textLength="36.0" lengthAdjust="spacingAndGlyphs">KDJ_UD</text>
<text x="608" y="734" class="tab" textLength="11" lengthAdjust="spacingAndGlyphs">&gt;&gt;</text>
</svg>
</body></html>
